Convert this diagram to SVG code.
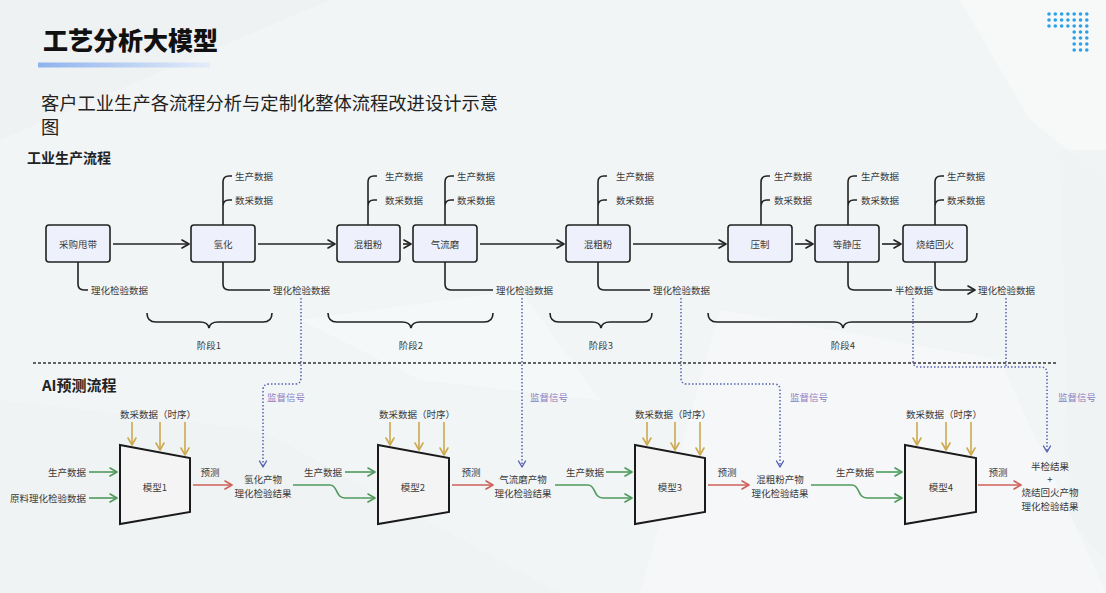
<svg xmlns="http://www.w3.org/2000/svg" width="1106" height="593" viewBox="0 0 1106 593">
<defs>
<linearGradient id="bar" x1="0" y1="0" x2="1" y2="0">
<stop offset="0" stop-color="#8fb3ef"/>
<stop offset="1" stop-color="#e4ecf9"/>
</linearGradient>
<marker id="ak" markerUnits="userSpaceOnUse" markerWidth="12" markerHeight="12" refX="8" refY="5" orient="auto" viewBox="0 0 12 10">
<path d="M1,1 L8,5 L1,9" fill="none" stroke="#222" stroke-width="1.6" stroke-linejoin="round" stroke-linecap="round"/>
</marker>
<marker id="ag" markerUnits="userSpaceOnUse" markerWidth="12" markerHeight="12" refX="8" refY="5" orient="auto" viewBox="0 0 12 10">
<path d="M1,1 L8,5 L1,9" fill="none" stroke="#4f9a5c" stroke-width="1.6" stroke-linejoin="round" stroke-linecap="round"/>
</marker>
<marker id="ar" markerUnits="userSpaceOnUse" markerWidth="12" markerHeight="12" refX="8" refY="5" orient="auto" viewBox="0 0 12 10">
<path d="M1,1 L8,5 L1,9" fill="none" stroke="#cd6158" stroke-width="1.6" stroke-linejoin="round" stroke-linecap="round"/>
</marker>
<marker id="ay" markerUnits="userSpaceOnUse" markerWidth="12" markerHeight="12" refX="8" refY="5" orient="auto" viewBox="0 0 12 10">
<path d="M1,1 L8,5 L1,9" fill="none" stroke="#cda94e" stroke-width="1.6" stroke-linejoin="round" stroke-linecap="round"/>
</marker>
<marker id="ab" markerUnits="userSpaceOnUse" markerWidth="12" markerHeight="12" refX="7" refY="5" orient="auto" viewBox="0 0 12 10">
<path d="M1,1.5 L7,5 L1,8.5" fill="none" stroke="#5560b0" stroke-width="1.4" stroke-linejoin="round" stroke-linecap="round"/>
</marker>
</defs>
<style>
text{font-family:"Noto Sans CJK SC","Noto Sans",sans-serif;fill:#3a3a3a;}
.t{font-size:9.5px;}
.c{text-anchor:middle;}
.e{text-anchor:end;}
.box{fill:#eef1fb;stroke:#222;stroke-width:1.6;}
.ln{fill:none;stroke:#222;stroke-width:1.6;}
.brace{fill:none;stroke:#222;stroke-width:1.6;}
.sup{fill:none;stroke:#5560b0;stroke-width:1.5;stroke-dasharray:1.5 2;}
.sl{font-size:9.5px;fill:#8a7cc0;}
.mdl{fill:#f4f4f4;stroke:#1a1a1a;stroke-width:2;}
.g{fill:none;stroke:#4f9a5c;stroke-width:1.6;}
.r{fill:none;stroke:#cd6158;stroke-width:1.6;}
.y{fill:none;stroke:#cda94e;stroke-width:1.6;}
.dot{fill:#2fa0e6;}
</style>

<!-- background -->
<rect x="0" y="0" width="1106" height="593" fill="#f2f5f6"/>
<polygon points="0,0 330,0 0,140" fill="#eef1f3" opacity="0.8"/>
<polygon points="960,0 1106,0 1106,180 1030,120" fill="#f7f9fa" opacity="0.9"/>
<polygon points="1060,150 1106,150 1106,560 1070,520" fill="#eef2f3" opacity="0.8"/>
<polygon points="720,310 1000,360 1106,593 640,593" fill="#f6f8f9" opacity="0.8"/>
<polygon points="0,400 260,430 560,593 0,593" fill="#eef2f3" opacity="0.6"/>
<polygon points="300,320 520,290 600,400 420,380" fill="#f7f9fa" opacity="0.7"/>

<!-- decorative dots -->
<g id="dots">
<circle class="dot" cx="1049" cy="14" r="1.8"/><circle class="dot" cx="1055.3" cy="14" r="1.8"/><circle class="dot" cx="1061.6" cy="14" r="1.8"/><circle class="dot" cx="1067.9" cy="14" r="1.8"/><circle class="dot" cx="1074.2" cy="14" r="1.8"/><circle class="dot" cx="1080.5" cy="14" r="1.8"/><circle class="dot" cx="1086.8" cy="14" r="1.8"/>
<circle class="dot" cx="1049" cy="20" r="1.8"/><circle class="dot" cx="1055.3" cy="20" r="1.8"/><circle class="dot" cx="1061.6" cy="20" r="1.8"/><circle class="dot" cx="1067.9" cy="20" r="1.8"/><circle class="dot" cx="1074.2" cy="20" r="1.8"/><circle class="dot" cx="1080.5" cy="20" r="1.8"/><circle class="dot" cx="1086.8" cy="20" r="1.8"/>
<circle class="dot" cx="1049" cy="26" r="1.8"/><circle class="dot" cx="1055.3" cy="26" r="1.8"/><circle class="dot" cx="1061.6" cy="26" r="1.8"/><circle class="dot" cx="1067.9" cy="26" r="1.8"/><circle class="dot" cx="1074.2" cy="26" r="1.8"/><circle class="dot" cx="1080.5" cy="26" r="1.8"/><circle class="dot" cx="1086.8" cy="26" r="1.8"/>
<circle class="dot" cx="1074.2" cy="32" r="1.8"/><circle class="dot" cx="1080.5" cy="32" r="1.8"/><circle class="dot" cx="1086.8" cy="32" r="1.8"/>
<circle class="dot" cx="1074.2" cy="38" r="1.8"/><circle class="dot" cx="1080.5" cy="38" r="1.8"/><circle class="dot" cx="1086.8" cy="38" r="1.8"/>
<circle class="dot" cx="1074.2" cy="44" r="1.8"/><circle class="dot" cx="1080.5" cy="44" r="1.8"/><circle class="dot" cx="1086.8" cy="44" r="1.8"/>
<circle class="dot" cx="1074.2" cy="50" r="1.8"/><circle class="dot" cx="1080.5" cy="50" r="1.8"/><circle class="dot" cx="1086.8" cy="50" r="1.8"/>
</g>

<!-- titles -->
<text x="43" y="50" style="font-size:25px;font-weight:900;fill:#111;">工艺分析大模型</text>
<rect x="38" y="62.5" width="172" height="5" fill="url(#bar)"/>
<text x="41" y="110" style="font-size:18.3px;fill:#222;">客户工业生产各流程分析与定制化整体流程改进设计示意</text>
<text x="41" y="134" style="font-size:18.3px;fill:#222;">图</text>
<text x="27" y="163" style="font-size:14px;font-weight:700;fill:#222;">工业生产流程</text>
<text x="42" y="391" style="font-size:15px;font-weight:700;fill:#222;">AI预测流程</text>

<!-- connectors -->
<g id="connectors">
<path class="ln" d="M113,244 H189" marker-end="url(#ak)"/>
<path class="ln" d="M258,244 H335" marker-end="url(#ak)"/>
<path class="ln" d="M403,244 H411" marker-end="url(#ak)"/>
<path class="ln" d="M480,244 H564" marker-end="url(#ak)"/>
<path class="ln" d="M633,244 H726" marker-end="url(#ak)"/>
<path class="ln" d="M795,244 H813" marker-end="url(#ak)"/>
<path class="ln" d="M882,244 H901" marker-end="url(#ak)"/>
<path class="ln" d="M223,225 V182 Q223,176 229,176 H232 M223,206 Q223,200 229,200 H232"/>
<path class="ln" d="M368,225 V182 Q368,176 374,176 H377 M368,206 Q368,200 374,200 H377"/>
<path class="ln" d="M445,225 V182 Q445,176 451,176 H454 M445,206 Q445,200 451,200 H454"/>
<path class="ln" d="M598,225 V182 Q598,176 604,176 H607 M598,206 Q598,200 604,200 H607"/>
<path class="ln" d="M761,225 V182 Q761,176 767,176 H770 M761,206 Q761,200 767,200 H770"/>
<path class="ln" d="M848,225 V182 Q848,176 854,176 H857 M848,206 Q848,200 854,200 H857"/>
<path class="ln" d="M935,225 V182 Q935,176 941,176 H944 M935,206 Q935,200 941,200 H944"/>
<path class="ln" d="M78,262 V284 Q78,290 84,290 H88"/>
<path class="ln" d="M223,262 V284 Q223,290 229,290 H270"/>
<path class="ln" d="M445,262 V284 Q445,290 451,290 H493"/>
<path class="ln" d="M598,262 V284 Q598,290 604,290 H650"/>
<path class="ln" d="M848,262 V284 Q848,290 854,290 H892"/>
<path class="ln" d="M935,262 V284 Q935,290 941,290 H975" marker-end="url(#ak)"/>
<path class="brace" d="M147,313 Q147,322 156,322 H200 Q208,322 209,328 Q210,322 218,322 H263 Q272,322 272,313"/>
<path class="brace" d="M328,313 Q328,322 337,322 H402 Q410,322 411,328 Q412,322 420,322 H484 Q493,322 493,313"/>
<path class="brace" d="M550,313 Q550,322 559,322 H592 Q600,322 601,328 Q602,322 610,322 H643 Q652,322 652,313"/>
<path class="brace" d="M708,313 Q708,322 717,322 H834 Q842,322 843,328 Q844,322 852,322 H968 Q977,322 977,313"/>
<path d="M33,363 H1057" fill="none" stroke="#333" stroke-width="1.5" stroke-dasharray="3 2"/>
<path class="sup" d="M301,298 V378 Q301,384 295,384 H269 Q263,384 263,390 V467" marker-end="url(#ab)"/>
<path class="sup" d="M522,298 V467" marker-end="url(#ab)"/>
<path class="sup" d="M681,298 V378 Q681,384 687,384 H774 Q780,384 780,390 V467" marker-end="url(#ab)"/>
<path class="sup" d="M913,298 V361 Q913,367 919,367 H1041 Q1047,367 1047,373 V452" marker-end="url(#ab)"/>
<path class="sup" d="M1006,298 V367"/>
<path class="y" d="M132,422 V445" marker-end="url(#ay)"/>
<path class="y" d="M160,422 V450" marker-end="url(#ay)"/>
<path class="y" d="M185,422 V455" marker-end="url(#ay)"/>
<path class="y" d="M390,422 V445" marker-end="url(#ay)"/>
<path class="y" d="M419,422 V450" marker-end="url(#ay)"/>
<path class="y" d="M444,422 V455" marker-end="url(#ay)"/>
<path class="y" d="M647,422 V445" marker-end="url(#ay)"/>
<path class="y" d="M675,422 V450" marker-end="url(#ay)"/>
<path class="y" d="M700,422 V455" marker-end="url(#ay)"/>
<path class="y" d="M917,422 V445" marker-end="url(#ay)"/>
<path class="y" d="M946,422 V450" marker-end="url(#ay)"/>
<path class="y" d="M971,422 V455" marker-end="url(#ay)"/>
<path class="g" d="M89,472 H117" marker-end="url(#ag)"/>
<path class="g" d="M89,498 H117" marker-end="url(#ag)"/>
<path class="g" d="M345,472 H375" marker-end="url(#ag)"/>
<path class="g" d="M293,485 H330 C338,485 335,498 345,498 H375" marker-end="url(#ag)"/>
<path class="g" d="M606,472 H632" marker-end="url(#ag)"/>
<path class="g" d="M555,485 H588 C596,485 593,498 603,498 H632" marker-end="url(#ag)"/>
<path class="g" d="M876,472 H902" marker-end="url(#ag)"/>
<path class="g" d="M811,485 H852 C860,485 857,498 867,498 H902" marker-end="url(#ag)"/>
<path class="r" d="M193,485 H232" marker-end="url(#ar)"/>
<path class="r" d="M452,485 H493" marker-end="url(#ar)"/>
<path class="r" d="M708,485 H749" marker-end="url(#ar)"/>
<path class="r" d="M978,485 H1021" marker-end="url(#ar)"/>
</g>

<!-- process nodes -->
<g id="n-caigou"><rect class="box" x="46" y="225" width="64" height="37" rx="3"/><text class="t c" x="78" y="247.5">采购甩带</text></g>
<g id="n-qinghua"><rect class="box" x="191" y="225" width="64" height="37" rx="3"/><text class="t c" x="223" y="247.5">氢化</text></g>
<g id="n-hunfen1"><rect class="box" x="337" y="225" width="63" height="37" rx="3"/><text class="t c" x="368" y="247.5">混粗粉</text></g>
<g id="n-qiliumo"><rect class="box" x="413" y="225" width="64" height="37" rx="3"/><text class="t c" x="445" y="247.5">气流磨</text></g>
<g id="n-hunfen2"><rect class="box" x="566" y="225" width="64" height="37" rx="3"/><text class="t c" x="598" y="247.5">混粗粉</text></g>
<g id="n-yazhi"><rect class="box" x="728" y="225" width="64" height="37" rx="3"/><text class="t c" x="760" y="247.5">压制</text></g>
<g id="n-dengjingya"><rect class="box" x="815" y="225" width="64" height="37" rx="3"/><text class="t c" x="847" y="247.5">等静压</text></g>
<g id="n-shaojie"><rect class="box" x="903" y="225" width="64" height="37" rx="3"/><text class="t c" x="935" y="247.5">烧结回火</text></g>

<g id="labels-top">
<text class="t" x="235" y="179.5">生产数据</text><text class="t" x="235" y="203.5">数采数据</text>
<text class="t" x="385" y="179.5">生产数据</text><text class="t" x="385" y="203.5">数采数据</text>
<text class="t" x="457" y="179.5">生产数据</text><text class="t" x="457" y="203.5">数采数据</text>
<text class="t" x="616" y="179.5">生产数据</text><text class="t" x="616" y="203.5">数采数据</text>
<text class="t" x="774" y="179.5">生产数据</text><text class="t" x="774" y="203.5">数采数据</text>
<text class="t" x="861" y="179.5">生产数据</text><text class="t" x="861" y="203.5">数采数据</text>
<text class="t" x="947" y="179.5">生产数据</text><text class="t" x="947" y="203.5">数采数据</text>
<text class="t" x="91" y="293.5">理化检验数据</text>
<text class="t" x="273" y="293.5">理化检验数据</text>
<text class="t" x="496" y="293.5">理化检验数据</text>
<text class="t" x="653" y="293.5">理化检验数据</text>
<text class="t" x="895" y="293.5">半检数据</text>
<text class="t" x="978" y="293.5">理化检验数据</text>
</g>
<g id="stages">
<text class="t c" x="209" y="349">阶段1</text>
<text class="t c" x="411" y="349">阶段2</text>
<text class="t c" x="601" y="349">阶段3</text>
<text class="t c" x="843" y="349">阶段4</text>
</g>
<g id="sup-labels">
<text class="sl" x="267" y="400.5">监督信号</text>
<text class="sl" x="530" y="400.5">监督信号</text>
<text class="sl" x="790" y="400.5">监督信号</text>
<text class="sl" x="1058" y="400.5">监督信号</text>
</g>

<g id="model1">
<polygon class="mdl" points="120,445 190,458 190,512 120,524"/>
<text class="t c" x="155" y="490.5">模型1</text>
<text class="t c" x="158" y="417.5">数采数据（时序）</text>
<text class="t e" x="86" y="475.5">生产数据</text>
<text class="t e" x="86" y="501.5">原料理化检验数据</text>
<text class="t c" x="210" y="475.5">预测</text>
</g>
<g id="out1"><text class="t c" x="263" y="482.5">氢化产物</text><text class="t c" x="263" y="496.5">理化检验结果</text></g>
<g id="model2">
<polygon class="mdl" points="378,445 449,458 449,512 378,524"/>
<text class="t c" x="413" y="490.5">模型2</text>
<text class="t c" x="417" y="417.5">数采数据（时序）</text>
<text class="t c" x="323" y="475.5">生产数据</text>
<text class="t c" x="471" y="475.5">预测</text>
</g>
<g id="out2"><text class="t c" x="523" y="482.5">气流磨产物</text><text class="t c" x="523" y="496.5">理化检验结果</text></g>
<g id="model3">
<polygon class="mdl" points="635,445 705,458 705,512 635,524"/>
<text class="t c" x="670" y="490.5">模型3</text>
<text class="t c" x="673" y="417.5">数采数据（时序）</text>
<text class="t c" x="585" y="475.5">生产数据</text>
<text class="t c" x="727" y="475.5">预测</text>
</g>
<g id="out3"><text class="t c" x="780" y="482.5">混粗粉产物</text><text class="t c" x="780" y="496.5">理化检验结果</text></g>
<g id="model4">
<polygon class="mdl" points="905,445 976,458 976,512 905,524"/>
<text class="t c" x="941" y="490.5">模型4</text>
<text class="t c" x="944" y="417.5">数采数据（时序）</text>
<text class="t c" x="855" y="475.5">生产数据</text>
<text class="t c" x="998" y="475.5">预测</text>
</g>
<g id="out4">
<text class="t c" x="1050" y="469.5">半检结果</text>
<text class="t c" x="1050" y="482.5">+</text>
<text class="t c" x="1050" y="496">烧结回火产物</text>
<text class="t c" x="1050" y="509.5">理化检验结果</text>
</g>
</svg>
